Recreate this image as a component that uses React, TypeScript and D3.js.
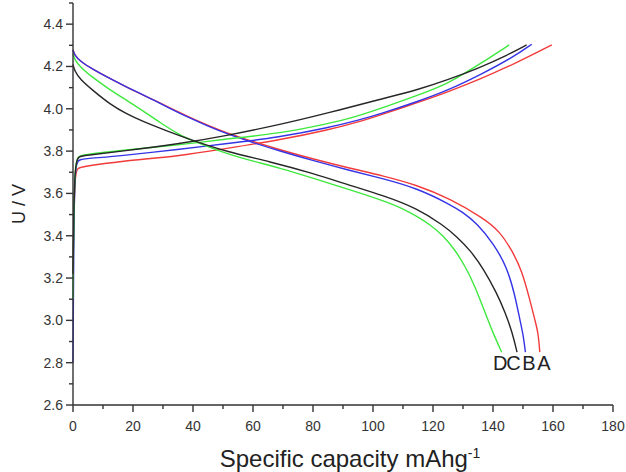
import React from 'react';
import * as d3 from 'd3';

// Charge / discharge voltage profiles for four cathode samples (A–D)
// x: specific capacity (mAh/g), y: cell voltage (V)

const xTicks = [0, 20, 40, 60, 80, 100, 120, 140, 160, 180];
const yTicks = [2.6, 2.8, 3.0, 3.2, 3.4, 3.6, 3.8, 4.0, 4.2, 4.4];

const sampleNames = ['A', 'B', 'C', 'D'];
const sampleColors = ['#f23a3a', '#3434e6', '#262626', '#3ee83e'];
// x (capacity) where each sample's label sits under its discharge end
const labelAt = [157.0, 152.0, 146.8, 142.4];

const chargeA: [number, number][] = [
  [0, 3.22], [0.3, 3.5], [0.7, 3.69], [1.5, 3.72], [3, 3.726], [15.7, 3.752], [35.7, 3.777],
  [50, 3.81], [69, 3.853], [85, 3.9], [95.7, 3.94], [102.3, 3.97], [115, 4.03], [124.6, 4.078],
  [135.7, 4.14], [146.8, 4.21], [159.6, 4.302],
];
const chargeB: [number, number][] = [
  [0, 2.8], [0.3, 3.5], [0.7, 3.71], [1.5, 3.757], [3, 3.763], [15.7, 3.777], [35.7, 3.809],
  [50, 3.833], [69, 3.866], [85, 3.91], [95.7, 3.948], [102.3, 3.975], [115, 4.035],
  [124.6, 4.085], [135.7, 4.16], [146.8, 4.245], [152.9, 4.305],
];
const chargeC: [number, number][] = [
  [0, 3.22], [0.3, 3.55], [0.7, 3.72], [1.5, 3.772], [3, 3.778], [15.7, 3.798], [35.7, 3.835],
  [50, 3.87], [69, 3.925], [85, 3.98], [102.3, 4.045], [115, 4.09], [124.6, 4.135],
  [135.7, 4.195], [145, 4.255], [151.2, 4.302],
];
const chargeD: [number, number][] = [
  [0, 3.1], [0.3, 3.55], [0.7, 3.72], [1.5, 3.775], [3, 3.782], [15.7, 3.803], [35.7, 3.83],
  [50, 3.855], [69, 3.885], [80, 3.915], [91, 3.948], [102.3, 4.0], [115, 4.065],
  [124.6, 4.115], [135.7, 4.212], [145.4, 4.302],
];

const dischargeA: [number, number][] = [
  [0, 4.278], [0.5, 4.255], [2.3, 4.225], [6.8, 4.185], [12, 4.145], [17.9, 4.102], [25, 4.055],
  [31.2, 4.012], [38, 3.965], [45, 3.922], [51.2, 3.886], [60, 3.845], [69, 3.806], [80, 3.763],
  [92.3, 3.719], [103.4, 3.683], [114.6, 3.64], [125.7, 3.575], [136.8, 3.483], [142.3, 3.42],
  [146.2, 3.333], [149.6, 3.238], [152.3, 3.096], [154, 3.0], [155.1, 2.939], [155.6, 2.85],
];
const dischargeB: [number, number][] = [
  [0, 4.278], [0.5, 4.255], [2.3, 4.225], [6.8, 4.185], [12, 4.145], [17.9, 4.102], [25, 4.055],
  [31.2, 4.01], [38, 3.962], [45, 3.918], [51.2, 3.882], [60, 3.84], [69, 3.8], [80, 3.755],
  [92.3, 3.708], [103.4, 3.67], [114.6, 3.625], [125.7, 3.548], [130, 3.51], [134.6, 3.459],
  [140.1, 3.364], [144.6, 3.254], [147.3, 3.12], [149, 3.0], [150.1, 2.93], [150.8, 2.85],
];
const dischargeC: [number, number][] = [
  [0, 4.21], [0.5, 4.18], [2.3, 4.14], [6.8, 4.085], [12.3, 4.022], [17.9, 3.975], [23.4, 3.94],
  [29, 3.908], [35.7, 3.872], [40, 3.85], [51.2, 3.797], [65.7, 3.75], [80, 3.695], [92.3, 3.638],
  [103.4, 3.59], [114.6, 3.53], [123.4, 3.45], [128, 3.395], [132.5, 3.33], [137, 3.24],
  [141.2, 3.13], [144, 3.04], [146.5, 2.94], [148, 2.85],
];
const dischargeD: [number, number][] = [
  [0, 4.258], [0.5, 4.235], [2.3, 4.198], [6.8, 4.145], [12.3, 4.09], [17.9, 4.04], [23.4, 3.99],
  [29, 3.935], [35.7, 3.875], [40, 3.848], [51.2, 3.787], [60, 3.752], [69, 3.72], [80, 3.672],
  [92.3, 3.617], [103.4, 3.566], [110, 3.528], [114.6, 3.492], [119, 3.453], [123.4, 3.4],
  [127, 3.34], [131, 3.25], [134, 3.16], [137, 3.05], [140, 2.94], [142.9, 2.85],
];

const chargeCurves = [chargeA, chargeB, chargeC, chargeD];
const dischargeCurves = [dischargeA, dischargeB, dischargeC, dischargeD];
// paint order: A, B, D, C (C ends up on top)
const drawOrder = [0, 1, 3, 2];

const W = 626;
const H = 472;
const M = { left: 73, right: 13, top: 3, bottom: 67 };
const FONT = '"Liberation Sans", Arial, Helvetica, sans-serif';
const AXIS = '#333';

export default function App() {
  const x = d3.scaleLinear().domain([0, 180]).range([M.left, W - M.right]);
  const y = d3.scaleLinear().domain([2.6, 4.5]).range([H - M.bottom, M.top]);
  const line = d3
    .line<[number, number]>()
    .x((d) => x(d[0]))
    .y((d) => y(d[1]))
    .curve(d3.curveBasis);

  const xMinor = d3.range(10, 180, 20);
  const yMinor = d3.range(0, 10).map((i) => +(2.7 + i * 0.2).toFixed(1));
  const y0 = y(2.6);

  return (
    <div style={{ position: 'fixed', left: 0, top: 0 }}>
      <svg width={W} height={H} style={{ display: 'block', background: '#fff' }} fontFamily={FONT}>
        {/* curves */}
        <g fill="none" strokeWidth={1.4} strokeLinejoin="round">
          {drawOrder.map((i) => (
            <g key={sampleNames[i]} stroke={sampleColors[i]}>
              <path d={line(chargeCurves[i]) || ''} />
              <path d={line(dischargeCurves[i]) || ''} />
            </g>
          ))}
        </g>

        {/* sample labels */}
        {sampleNames.map((n, i) => (
          <text key={n} x={x(labelAt[i])} y={370} fontSize={20} textAnchor="middle" fill="#222">
            {n}
          </text>
        ))}

        {/* x axis */}
        <g stroke={AXIS} strokeWidth={1.4}>
          <line x1={x(0)} x2={x(180)} y1={y0} y2={y0} />
          {xTicks.map((t) => (
            <line key={t} x1={x(t)} x2={x(t)} y1={y0} y2={y0 + 7} />
          ))}
          {xMinor.map((t) => (
            <line key={t} x1={x(t)} x2={x(t)} y1={y0} y2={y0 + 4} />
          ))}
        </g>
        {xTicks.map((t) => (
          <text key={t} x={x(t)} y={431} fontSize={14} textAnchor="middle" fill={AXIS}>
            {t}
          </text>
        ))}

        {/* y axis */}
        <g stroke={AXIS} strokeWidth={1.4}>
          <line x1={x(0)} x2={x(0)} y1={y(4.5)} y2={y0} />
          {yTicks.map((t) => (
            <line key={t} x1={x(0) - 7} x2={x(0)} y1={y(t)} y2={y(t)} />
          ))}
          {yMinor.map((t) => (
            <line key={t} x1={x(0) - 4} x2={x(0)} y1={y(t)} y2={y(t)} />
          ))}
        </g>
        {yTicks.map((t) => (
          <text
            key={t}
            x={63}
            y={y(t)}
            fontSize={14}
            textAnchor="end"
            dominantBaseline="central"
            fill={AXIS}
          >
            {t.toFixed(1)}
          </text>
        ))}

        {/* axis titles */}
        <text x={350} y={467} fontSize={24} textAnchor="middle" fill="#222">
          Specific capacity mAhg<tspan dy={-9} fontSize={14}>-1</tspan>
        </text>
        <text
          transform={`translate(25,${(y(4.5) + y0) / 2}) rotate(-90)`}
          fontSize={18}
          textAnchor="middle"
          fill="#222"
        >
          U / V
        </text>
      </svg>
    </div>
  );
}
